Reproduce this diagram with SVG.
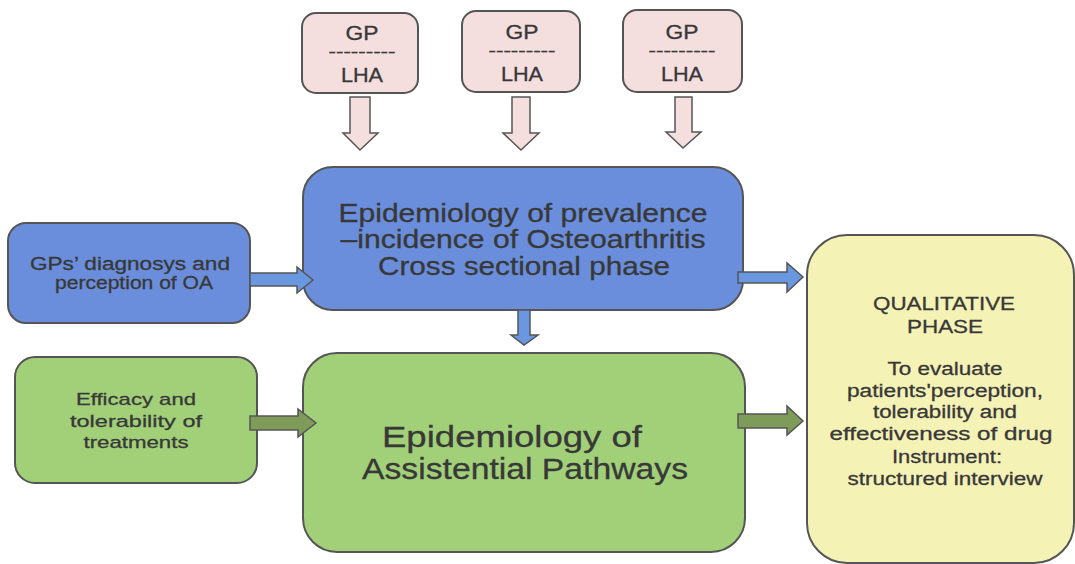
<svg xmlns="http://www.w3.org/2000/svg" width="1075" height="564" viewBox="0 0 1075 564">
  <style>
    .box { stroke: #555; stroke-width: 2; }
    .pink { fill: #f5dede; }
    .blue { fill: #6a8edb; }
    .green { fill: #a2d078; }
    .yellow { fill: #f5f2b6; }
    .arr { stroke: #555; stroke-width: 1.5; stroke-linejoin: miter; }
    .arr-pink { fill: #f5dede; }
    .arr-blue { fill: #6a98e0; }
    .arr-green { fill: #7e9b5a; }
    text { font-family: "Liberation Sans", Arial, sans-serif; fill: #383838; stroke: #383838; stroke-width: 0.3; text-anchor: middle; }
    .s14 { font-size: 14px; }
    .s17 { font-size: 17px; }
    .s18 { font-size: 18px; }
    .s20 { font-size: 20px; }
    .s25 { font-size: 25px; }
    .s29 { font-size: 29px; }
  </style>
  <rect width="1075" height="564" fill="#ffffff"/>

  <!-- GP / LHA source boxes -->
  <g id="gp1">
    <rect class="box pink" x="302" y="13" width="116" height="80" rx="14"/>
    <text class="s20" x="362" y="40" textLength="33" lengthAdjust="spacingAndGlyphs">GP</text>
    <text class="s14" x="362" y="57" textLength="67" lengthAdjust="spacingAndGlyphs">---------</text>
    <text class="s20" x="362" y="82" textLength="42" lengthAdjust="spacingAndGlyphs">LHA</text>
  </g>
  <g id="gp2">
    <rect class="box pink" x="462" y="11" width="118" height="81" rx="14"/>
    <text class="s20" x="522" y="39" textLength="33" lengthAdjust="spacingAndGlyphs">GP</text>
    <text class="s14" x="522" y="56" textLength="67" lengthAdjust="spacingAndGlyphs">---------</text>
    <text class="s20" x="522" y="81" textLength="42" lengthAdjust="spacingAndGlyphs">LHA</text>
  </g>
  <g id="gp3">
    <rect class="box pink" x="623" y="10" width="119" height="82" rx="14"/>
    <text class="s20" x="682" y="39" textLength="33" lengthAdjust="spacingAndGlyphs">GP</text>
    <text class="s14" x="682" y="56" textLength="67" lengthAdjust="spacingAndGlyphs">---------</text>
    <text class="s20" x="682" y="81" textLength="42" lengthAdjust="spacingAndGlyphs">LHA</text>
  </g>

  <!-- Cross sectional phase -->
  <g id="prevalence">
    <rect class="box blue" x="303" y="167" width="440" height="143" rx="30"/>
    <text class="s25" x="523" y="222" textLength="369" lengthAdjust="spacingAndGlyphs">Epidemiology of prevalence</text>
    <text class="s25" x="523" y="248" textLength="365" lengthAdjust="spacingAndGlyphs">–incidence of Osteoarthritis</text>
    <text class="s25" x="524" y="275" textLength="292" lengthAdjust="spacingAndGlyphs">Cross sectional phase</text>
  </g>
  <g id="gp-diagnosis">
    <rect class="box blue" x="8" y="223" width="242" height="100" rx="18"/>
    <text class="s18" x="130" y="270" textLength="200" lengthAdjust="spacingAndGlyphs">GPs’ diagnosys and</text>
    <text class="s18" x="134" y="289" textLength="158" lengthAdjust="spacingAndGlyphs">perception of OA</text>
  </g>

  <!-- Assistential pathways -->
  <g id="pathways">
    <rect class="box green" x="303" y="353" width="442" height="199" rx="34"/>
    <text class="s29" x="512" y="447" textLength="260" lengthAdjust="spacingAndGlyphs">Epidemiology of</text>
    <text class="s29" x="525" y="479" textLength="326" lengthAdjust="spacingAndGlyphs">Assistential Pathways</text>
  </g>
  <g id="efficacy">
    <rect class="box green" x="15" y="357" width="242" height="126" rx="20"/>
    <text class="s17" x="136" y="405" textLength="120" lengthAdjust="spacingAndGlyphs">Efficacy and</text>
    <text class="s17" x="136" y="427" textLength="132" lengthAdjust="spacingAndGlyphs">tolerability  of</text>
    <text class="s17" x="136" y="448" textLength="105" lengthAdjust="spacingAndGlyphs">treatments</text>
  </g>

  <!-- Qualitative phase -->
  <g id="qualitative">
    <rect class="box yellow" x="807" y="235" width="267" height="328" rx="40"/>
    <text class="s18" x="944" y="310" textLength="142" lengthAdjust="spacingAndGlyphs">QUALITATIVE</text>
    <text class="s18" x="945" y="333" textLength="76" lengthAdjust="spacingAndGlyphs">PHASE</text>
    <text class="s18" x="945" y="375" textLength="115" lengthAdjust="spacingAndGlyphs">To evaluate</text>
    <text class="s18" x="945" y="397" textLength="196" lengthAdjust="spacingAndGlyphs">patients'perception,</text>
    <text class="s18" x="945" y="418" textLength="144" lengthAdjust="spacingAndGlyphs">tolerability and</text>
    <text class="s18" x="941" y="440" textLength="223" lengthAdjust="spacingAndGlyphs">effectiveness of  drug</text>
    <text class="s18" x="947" y="463" textLength="110" lengthAdjust="spacingAndGlyphs">Instrument:</text>
    <text class="s18" x="945" y="485" textLength="195" lengthAdjust="spacingAndGlyphs">structured interview</text>
  </g>

  <!-- Block arrows -->
  <g id="connectors">
    <!-- downward from GP/LHA boxes -->
    <polygon class="arr arr-pink" points="350,97 370,97 370,133 378,133 360,150 343,133 350,133"/>
    <polygon class="arr arr-pink" points="512,97 530,97 530,133 539,133 521,150 503,133 512,133"/>
    <polygon class="arr arr-pink" points="675,97 692,97 692,132 701,132 683,148 666,132 675,132"/>
    <!-- blue -->
    <polygon class="arr arr-blue" points="250,273 297,273 297,267 313,280 297,293 297,286 250,286"/>
    <polygon class="arr arr-blue" points="738,272 787,272 787,263 803,277 787,292 787,283 738,283"/>
    <polygon class="arr arr-blue" points="518,310 530,310 530,335 538,335 524,345 511,335 518,335"/>
    <!-- green -->
    <polygon class="arr arr-green" points="250,416 298,416 298,409 316,423 298,437 298,430 250,430"/>
    <polygon class="arr arr-green" points="738,414 787,414 787,406 803,421 787,435 787,428 738,428"/>
  </g>
</svg>
